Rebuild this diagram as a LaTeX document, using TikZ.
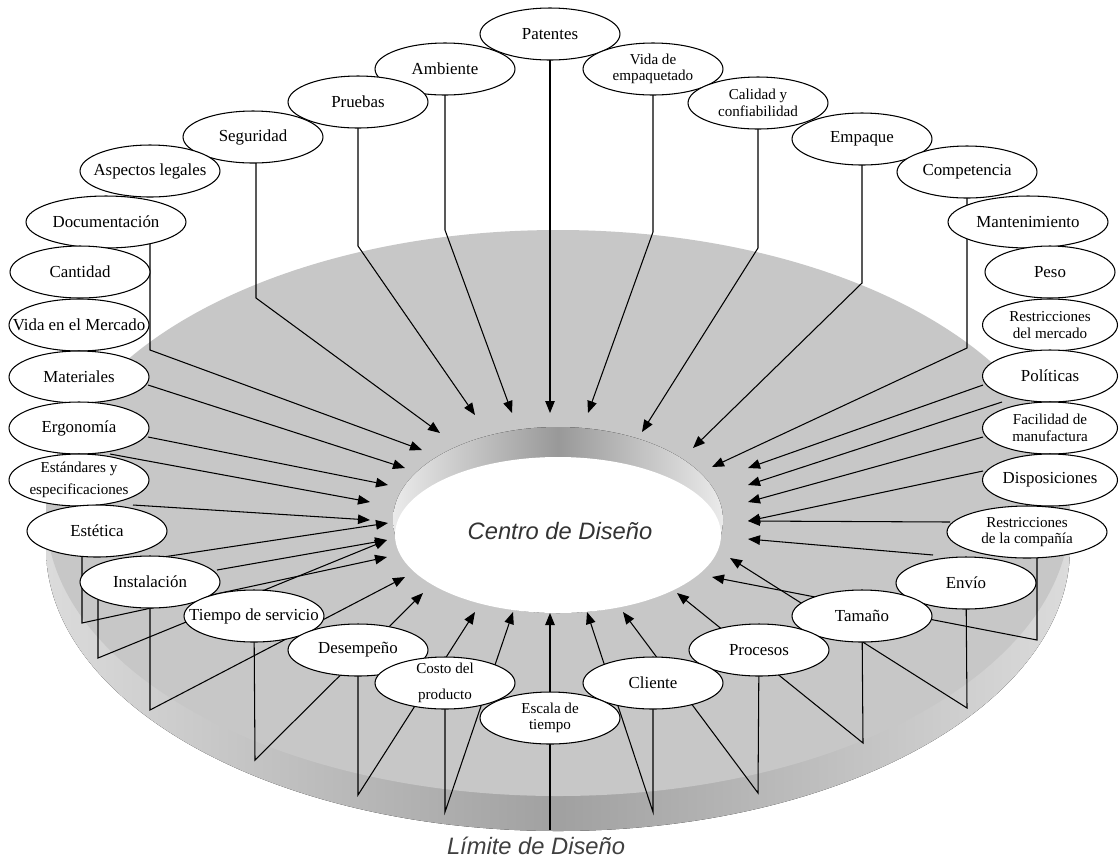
\documentclass[tikz,border=0pt]{standalone}
\usepackage{fontspec}
\setmainfont{Liberation Serif}
\newfontfamily\lsans{Liberation Sans}
\usetikzlibrary{shapes.geometric,arrows.meta}
\pgfdeclarelayer{disk}
\pgfdeclarelayer{lines}
\pgfsetlayers{disk,lines,main}
\definecolor{topsurf}{gray}{0.78}
\definecolor{rimdark}{gray}{0.63}
\definecolor{rimlight}{gray}{0.86}
\definecolor{walldark}{gray}{0.6}
\definecolor{walllight}{gray}{0.92}
\begin{document}
\begin{tikzpicture}[x=0.02cm,y=-0.02cm,
  lab/.style={ellipse, draw=black, line width=0.6pt, fill=white, minimum width=2.8cm, minimum height=1.04cm, inner sep=0pt},
  wide/.style={minimum width=3.2cm},
  txt/.style={font=\fontsize{9.6}{10}\selectfont, align=center, inner sep=0pt},
  txtb/.style={font=\fontsize{8.6}{9.4}\selectfont, align=center, inner sep=0pt},
  conn/.style={draw=black, line width=0.6pt},
  arr/.style={conn, -{Triangle[length=0.24cm,width=0.19cm]}}]
\useasboundingbox (0,0) rectangle (1119,860);
% ---------- labels ----------
\node[lab, label={[txt]center:Patentes}] (pat) at (550,34) {};
\node[lab, label={[txt]center:Ambiente}] (amb) at (445,69) {};
\node[lab, label={[txtb]center:{Vida de\\empaquetado}}] (vemp) at (653,69) {};
\node[lab, label={[txt]center:Pruebas}] (pru) at (358,102) {};
\node[lab, label={[txtb]center:{Calidad y\\confiabilidad}}] (cal) at (758,103) {};
\node[lab, label={[txt]center:Seguridad}] (seg) at (253,137) {};
\node[lab, label={[txt]center:Empaque}] (emq) at (862,139) {};
\node[lab, label={[txt]center:Aspectos legales}] (asp) at (150,171) {};
\node[lab, label={[txt]center:Competencia}] (com) at (967,172) {};
\node[lab, wide, label={[txt]center:Documentación}] (doc) at (106,222) {};
\node[lab, wide, label={[txt]center:Mantenimiento}] (man) at (1028,222) {};
\node[lab, label={[txt]center:Cantidad}] (can) at (80,272) {};
\node[lab, minimum width=2.6cm, label={[txt]center:Peso}] (pes) at (1050,272) {};
\node[lab, label={[txt]center:Vida en el Mercado}] (vmer) at (79,325) {};
\node[lab, minimum width=2.7cm, label={[txtb]center:{Restricciones\\del mercado}}] (rmer) at (1050,325) {};
\node[lab, label={[txt]center:Materiales}] (mat) at (79,377) {};
\node[lab, minimum width=2.7cm, label={[txt]center:Políticas}] (pol) at (1050,376) {};
\node[lab, label={[txt]center:Ergonomía}] (erg) at (79,428) {};
\node[lab, minimum width=2.7cm, label={[txtb]center:{Facilidad de\\manufactura}}] (fac) at (1050,428) {};
\node[lab, label={[txtb]center:{Estándares y\\[3pt]especificaciones}}] (est) at (79,480) {};
\node[lab, minimum width=2.7cm, label={[txt]center:Disposiciones}] (dis) at (1050,480) {};
\node[lab, label={[txt]center:Estética}] (ete) at (97,531) {};
\node[lab, wide, label={[txtb]center:{Restricciones\\de la compañía}}] (rcom) at (1027,532) {};
\node[lab, label={[txt]center:Instalación}] (ins) at (150,582) {};
\node[lab, label={[txt]center:Envío}] (env) at (966,583) {};
\node[lab, label={[txt]center:Tiempo de servicio}] (tie) at (254,616) {};
\node[lab, label={[txt]center:Tamaño}] (tam) at (862,616) {};
\node[lab, label={[txt]center:Desempeño}] (des) at (358,650) {};
\node[lab, label={[txt]center:Procesos}] (pro) at (759,650) {};
\node[lab, label={[txtb]center:{Costo del\\[5pt]producto}}] (cos) at (445,683) {};
\node[lab, label={[txt]center:Cliente}] (cli) at (653,683) {};
\node[lab, label={[txtb]center:{Escala de\\tiempo}}] (esc) at (550,718) {};
% ---------- disk ----------
\begin{pgfonlayer}{disk}
\fill[left color=rimlight, right color=rimlight, middle color=rimdark] (558,548) ellipse [x radius=512, y radius=283];
\fill[topsurf] (558,513) ellipse [x radius=512, y radius=283];
\fill[left color=walllight, right color=walllight, middle color=walldark] (558,520) ellipse [x radius=165, y radius=93];
\fill[white] (558,535) ellipse [x radius=163, y radius=78];
\node[font=\lsans\itshape\fontsize{13.5}{15}\selectfont, text=black!80] (centro) at (560,531) {Centro de Diseño};
\node[font=\lsans\itshape\fontsize{13.5}{15}\selectfont, text=black!75] (limite) at (536,846) {Límite de Diseño};
\end{pgfonlayer}
% ---------- coordinates ----------
\coordinate (tSeg) at (440,433); \coordinate (kSeg) at (256,298);
\coordinate (tPru) at (475,415); \coordinate (kPru) at (358,246);
\coordinate (tAmb) at (512,413); \coordinate (kAmb) at (445,230);
\coordinate (tPat) at (550,413);
\coordinate (tVemp) at (588,413); \coordinate (kVemp) at (653,232);
\coordinate (tCal) at (642,432); \coordinate (kCal) at (758,248);
\coordinate (tEmq) at (693,448); \coordinate (kEmq) at (862,283);
\coordinate (tCom) at (712,467); \coordinate (kCom) at (967,348);
\coordinate (tDoc) at (422,450); \coordinate (kDoc) at (150,350);
\coordinate (tMat) at (405,468);
\coordinate (tErg) at (388,485);
\coordinate (tEst) at (370,502);
\coordinate (tEte) at (370,520);
\coordinate (tEte2) at (387,557); \coordinate (kEte) at (82,623);
\coordinate (tIns) at (388,523);
\coordinate (tIns4) at (387,540);
\coordinate (tIns2) at (387,540); \coordinate (kIns2) at (98,658);
\coordinate (tIns3) at (405,577); \coordinate (kIns3) at (150,710);
\coordinate (tTie) at (423,593); \coordinate (kTie) at (255,760);
\coordinate (tDes) at (475,612); \coordinate (kDes) at (358,795);
\coordinate (tCos) at (513,612); \coordinate (kCos) at (445,812);
\coordinate (tEsc) at (550,613); \coordinate (kEsc) at (550,830);
\coordinate (tCli) at (587,612); \coordinate (kCli) at (653,812);
\coordinate (tPro) at (623,612); \coordinate (kPro) at (758,793);
\coordinate (tTam) at (677,593); \coordinate (kTam) at (863,743);
\coordinate (tEnv) at (730,558); \coordinate (kEnv) at (967,708);
\coordinate (tEnv2) at (748,539);
\coordinate (tRcom2) at (712,577); \coordinate (kRcom) at (1037,640);
\coordinate (tRcom) at (748,521);
\coordinate (tDis) at (748,521);
\coordinate (tFac) at (748,502);
\coordinate (tFac2) at (748,485);
\coordinate (tPol) at (748,468);
% ---------- connectors ----------
\begin{pgfonlayer}{lines}
\draw[arr] (seg.center) ++(3,0) -- (kSeg) -- (tSeg);
\draw[arr] (pru.center) -- (kPru) -- (tPru);
\draw[arr] (amb.center) -- (kAmb) -- (tAmb);
\draw[arr] (pat.center) -- (tPat);
\draw[arr] (vemp.center) -- (kVemp) -- (tVemp);
\draw[arr] (cal.center) -- (kCal) -- (tCal);
\draw[arr] (emq.center) -- (kEmq) -- (tEmq);
\draw[arr] (com.center) -- (kCom) -- (tCom);
\draw[arr] (doc.center) ++(44,0) -- (kDoc) -- (tDoc);
\draw[arr] (mat.center) ++(69,8) -- (tMat);
\draw[arr] (erg.center) ++(69,9) -- (tErg);
\draw[arr] (est.center) ++(31,-26) -- (tEst);
\draw[arr] (ete.center) ++(36,-26) -- (tEte);
\draw[arr] (ete.center) ++(-15,0) -- (kEte) -- (tEte2);
\draw[arr] (ins.center) ++(13,-25) -- (tIns);
\draw[arr] (ins.center) ++(67,-12) -- (tIns4);
\draw[arr] (ins.center) ++(-52,0) -- (kIns2) -- (tIns2);
\draw[arr] (ins.center) -- (kIns3) -- (tIns3);
\draw[arr] (tie.center) -- (kTie) -- (tTie);
\draw[arr] (des.center) -- (kDes) -- (tDes);
\draw[arr] (cos.center) -- (kCos) -- (tCos);
\draw[conn] (esc.center) -- (kEsc);
\draw[arr] (esc.center) -- (tEsc);
\draw[arr] (cli.center) -- (kCli) -- (tCli);
\draw[arr] (pro.center) -- (kPro) -- (tPro);
\draw[arr] (tam.center) -- (kTam) -- (tTam);
\draw[arr] (env.center) -- (kEnv) -- (tEnv);
\draw[arr] (env.center) ++(-33,-28) -- (tEnv2);
\draw[arr] (rcom.center) ++(10,0) -- (kRcom) -- (tRcom2);
\draw[arr] (rcom.center) ++(-77,-10) -- (tRcom);
\draw[arr] (dis.center) ++(-67,-9) -- (tDis);
\draw[arr] (fac.center) ++(-67,9) -- (tFac);
\draw[arr] (fac.center) ++(-48,-26) -- (tFac2);
\draw[arr] (pol.center) ++(-67,9) -- (tPol);
\end{pgfonlayer}
\end{tikzpicture}
\end{document}
